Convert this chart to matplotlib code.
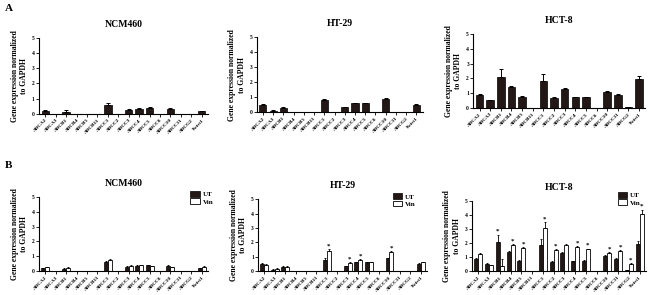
import matplotlib.pyplot as plt
import numpy as np

plt.rcParams['font.family'] = ['Liberation Serif', 'DejaVu Serif']
plt.rcParams['font.weight'] = 'bold'

genes = ['ABCA2', 'ABCA3', 'ABCB1', 'ABCB4', 'ABCB5', 'ABCB11', 'ABCC1', 'ABCC2',
         'ABCC3', 'ABCC4', 'ABCC5', 'ABCC6', 'ABCC10', 'ABCC11', 'ABCG2', 'Twist1']

# panel A / UT values
ncm_ut = [0.2, 0, 0.15, 0, 0, 0, 0.6, 0, 0.28, 0.35, 0.4, 0, 0.35, 0, 0, 0.18]
ncm_ut_err = [0.03, 0, 0.08, 0, 0, 0, 0.1, 0, 0.04, 0.04, 0.04, 0, 0.05, 0, 0, 0.03]
ht_ut = [0.5, 0.1, 0.3, 0, 0, 0, 0.8, 0, 0.32, 0.6, 0.6, 0, 0.88, 0, 0, 0.5]
ht_ut_err = [0.04, 0.04, 0.04, 0, 0, 0, 0.1, 0, 0.03, 0.04, 0.03, 0, 0.05, 0, 0, 0.05]
hct_ut = [0.85, 0.52, 2.1, 1.4, 0.75, 0, 1.85, 0.68, 1.3, 0.72, 0.72, 0, 1.1, 0.9, 0.08, 1.95]
hct_ut_err = [0.1, 0.04, 0.5, 0.06, 0.04, 0, 0.42, 0.05, 0.08, 0.03, 0.04, 0, 0.05, 0.04, 0.01, 0.2]

# panel B, vincristine treated
ncm_vin = [0.25, 0, 0.22, 0, 0, 0, 0.75, 0, 0.35, 0.4, 0.33, 0, 0.25, 0, 0, 0.3]
ncm_vin_err = [0.03, 0, 0.05, 0, 0, 0, 0.08, 0, 0.04, 0.03, 0.04, 0, 0.04, 0, 0, 0.04]
ht_vin = [0.42, 0.15, 0.3, 0, 0, 0, 1.4, 0, 0.55, 0.75, 0.62, 0, 1.3, 0, 0, 0.6]
ht_vin_err = [0.04, 0.04, 0.04, 0, 0, 0, 0.12, 0, 0.05, 0.06, 0.04, 0, 0.1, 0, 0, 0.05]
hct_vin = [1.2, 0.42, 0.4, 1.85, 1.65, 0, 3.05, 1.5, 1.9, 1.75, 1.55, 0, 1.3, 1.45, 0.5, 4.05]
hct_vin_err = [0.06, 0.04, 0.5, 0.06, 0.06, 0, 0.45, 0.08, 0.06, 0.06, 0.06, 0, 0.06, 0.06, 0.08, 0.35]

ht_star = [6, 8, 9, 12]
hct_star = [2, 3, 4, 6, 7, 9, 10, 12, 13, 14, 15]

fig = plt.figure(figsize=(6.5, 2.95), dpi=100)

x = np.arange(len(genes))


def style(ax, title):
    ax.set_ylim(0, 5)
    ax.set_xlim(-0.6, len(genes) - 0.4)
    ax.set_yticks(range(6))
    ax.set_xticks(x)
    ax.set_xticklabels(genes, rotation=45, ha='right', fontsize=3.8, rotation_mode='anchor')
    ax.tick_params(axis='y', labelsize=4, length=2, width=0.6, pad=1)
    ax.tick_params(axis='x', length=2, width=0.6, pad=1)
    for s in ['top', 'right']:
        ax.spines[s].set_visible(False)
    for s in ['left', 'bottom']:
        ax.spines[s].set_linewidth(0.8)
    ax.set_ylabel('Gene expression normalized\nto GAPDH', fontsize=5.5, fontweight='bold', labelpad=3)
    ax.set_title(title, fontsize=7, fontweight='bold', pad=8)


def panelA(rect, title, vals, err):
    ax = fig.add_axes(rect)
    ax.bar(x, vals, width=0.7, color='#231815', edgecolor='black', linewidth=0.5,
           yerr=[np.zeros(len(err)), err], error_kw=dict(elinewidth=0.7, capsize=1.5, capthick=0.7, ecolor='black'))
    style(ax, title)
    return ax


def panelB(rect, title, ut, ut_err, vin, vin_err, stars, leg_anchor):
    ax = fig.add_axes(rect)
    w = 0.38
    ax.bar(x - w / 2, ut, width=w, color='#231815', edgecolor='black', linewidth=0.5, label='UT',
           yerr=[np.zeros(len(ut_err)), ut_err], error_kw=dict(elinewidth=0.6, capsize=1, capthick=0.6))
    ax.bar(x + w / 2, vin, width=w, color='white', edgecolor='black', linewidth=0.6, label='Vin',
           yerr=[np.zeros(len(vin_err)), vin_err], error_kw=dict(elinewidth=0.6, capsize=1, capthick=0.6))
    # star over the taller bar of the pair
    for i in stars:
        top_ut = ut[i] + ut_err[i]
        top_vin = vin[i] + vin_err[i]
        if top_ut > top_vin:
            ax.text(x[i] - w / 2, top_ut + 0.05, '*', ha='center', va='bottom', fontsize=5)
        else:
            ax.text(x[i] + w / 2, top_vin + 0.05, '*', ha='center', va='bottom', fontsize=5)
    style(ax, title)
    ax.legend(loc='upper left', bbox_to_anchor=leg_anchor, frameon=False, fontsize=5,
              handlelength=1.3, handleheight=0.9, labelspacing=0.15, borderaxespad=0, handletextpad=0.5)
    return ax


panelA([0.06, 0.614, 0.26, 0.258], 'NCM460', ncm_ut, ncm_ut_err)
panelA([0.395, 0.620, 0.255, 0.254], 'HT-29', ht_ut, ht_ut_err)
panelA([0.728, 0.634, 0.265, 0.251], 'HCT-8', hct_ut, hct_ut_err)

panelB([0.06, 0.081, 0.26, 0.251], 'NCM460', ncm_ut, ncm_ut_err, ncm_vin, ncm_vin_err, [], (0.88, 1.12))
panelB([0.397, 0.081, 0.26, 0.244], 'HT-29', ht_ut, ht_ut_err, ht_vin, ht_vin_err, ht_star, (0.78, 1.12))
panelB([0.726, 0.081, 0.268, 0.237], 'HCT-8', hct_ut, hct_ut_err, hct_vin, hct_vin_err, hct_star, (0.82, 1.17))

fig.text(0.008, 0.985, 'A', fontsize=8, fontweight='bold', va='top')
fig.text(0.008, 0.455, 'B', fontsize=8, fontweight='bold', va='top')

fig.savefig('out.png', dpi=100)
